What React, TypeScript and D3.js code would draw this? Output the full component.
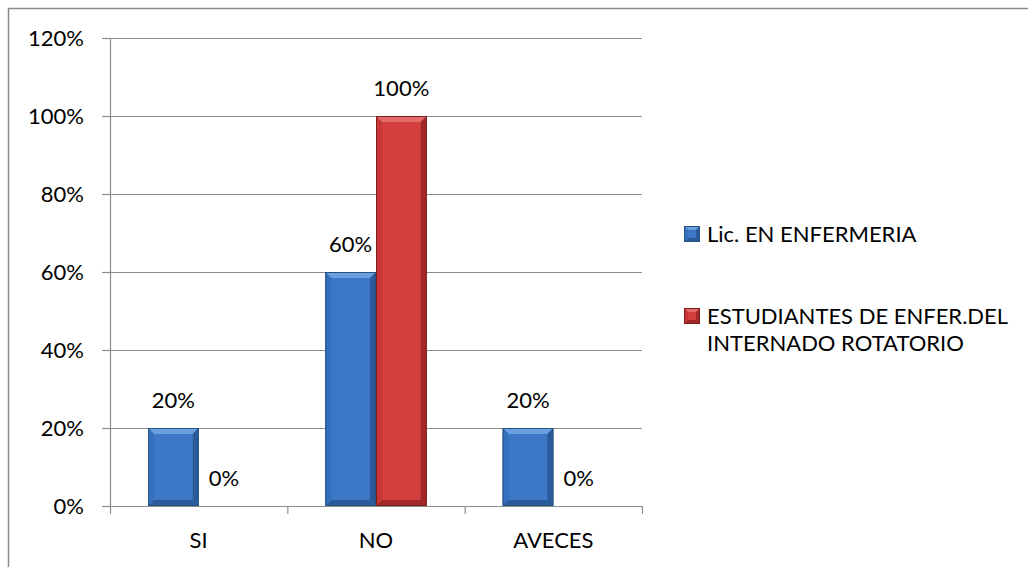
import React from "react";
import * as d3 from "d3";

const categories = ["SI", "NO", "AVECES"];
const seriesNames = ["Lic. EN ENFERMERIA", "ESTUDIANTES DE ENFER.DEL INTERNADO ROTATORIO"];
const licValues = [0.2, 0.6, 0.2];
const estValues = [0, 1.0, 0];
const yTicks = [0, 0.2, 0.4, 0.6, 0.8, 1.0, 1.2];

const W = 1028;
const H = 567;
const FONT = "Lato, 'Open Sans', sans-serif";

const palette = [
  { base: "#3d78c6", light: "#6a9fe0", side: "#3470bd", dark: "#2b5a9a", edge: "#27507f" },
  { base: "#d33f3f", light: "#e56b6b", side: "#c93636", dark: "#a02828", edge: "#7c1d1d" },
];

type Pal = (typeof palette)[number];

// Bar with a flat bevel: light top face, shaded sides and bottom.
function BevelRect({ x, y, w, h, pal, b = 6 }: { x: number; y: number; w: number; h: number; pal: Pal; b?: number }) {
  if (h <= 0 || w <= 0) return null;
  const bb = Math.min(b, h / 2, w / 2);
  const pts = (p: number[][]) => p.map((q) => q.join(",")).join(" ");
  return (
    <g>
      <rect x={x} y={y} width={w} height={h} fill={pal.base} />
      <polygon points={pts([[x, y], [x + w, y], [x + w - bb, y + bb], [x + bb, y + bb]])} fill={pal.light} />
      <polygon points={pts([[x, y], [x + bb, y + bb], [x + bb, y + h - bb], [x, y + h]])} fill={pal.side} />
      <polygon points={pts([[x + w, y], [x + w - bb, y + bb], [x + w - bb, y + h - bb], [x + w, y + h]])} fill={pal.dark} />
      <polygon points={pts([[x, y + h], [x + bb, y + h - bb], [x + w - bb, y + h - bb], [x + w, y + h]])} fill={pal.dark} />
      <rect x={x + 0.5} y={y + 0.5} width={w - 1} height={h - 1} fill="none" stroke={pal.edge} strokeWidth={1} />
    </g>
  );
}

export default function App() {
  const plot = { left: 110, right: 642, top: 38, bottom: 506 };
  const y = d3.scaleLinear().domain([0, 1.2]).range([plot.bottom, plot.top]);
  const x0 = d3.scaleBand<string>().domain(categories).range([plot.left, plot.right]).padding(0);
  const x1 = d3
    .scaleBand<number>()
    .domain([0, 1])
    .range([0, x0.bandwidth()])
    .paddingInner(0)
    .paddingOuter(0.75);
  const series = [licValues, estValues];
  const pct = d3.format(".0%");
  const grid = "#8c8c8c";

  return (
    <svg width={W} height={H} style={{ position: "absolute", left: 0, top: 0, background: "#fff" }} fontFamily={FONT}>
      <rect x={8.5} y={8.5} width={W + 20} height={H + 20} fill="#fff" stroke="#8a8a8a" strokeWidth={1.5} />

      {yTicks.map((t) => (
        <g key={t}>
          {t > 0 && <line x1={plot.left} x2={plot.right} y1={Math.round(y(t)) + 0.5} y2={Math.round(y(t)) + 0.5} stroke={grid} strokeWidth={1.2} />}
          <line x1={plot.left - 8} x2={plot.left} y1={Math.round(y(t)) + 0.5} y2={Math.round(y(t)) + 0.5} stroke={grid} strokeWidth={1.2} />
          <text x={plot.left - 26} y={y(t)} dy="0.35em" textAnchor="end" fontSize={22} fill="#000">
            {pct(t)}
          </text>
        </g>
      ))}

      {series.map((vals, si) =>
        categories.map((c, ci) => {
          const bx = (x0(c) ?? 0) + (x1(si) ?? 0);
          const bw = x1.bandwidth();
          const v = vals[ci];
          return (
            <g key={`${si}-${ci}`}>
              <BevelRect x={bx} y={y(v)} w={bw} h={y(0) - y(v)} pal={palette[si]} />
              <text x={bx + bw / 2} y={y(v) - 28} dy="0.35em" textAnchor="middle" fontSize={22} fill="#000">
                {pct(v)}
              </text>
            </g>
          );
        })
      )}

      <line x1={plot.left + 0.5} x2={plot.left + 0.5} y1={plot.top} y2={plot.bottom} stroke={grid} strokeWidth={1.2} />
      <line x1={plot.left} x2={plot.right} y1={plot.bottom + 0.5} y2={plot.bottom + 0.5} stroke={grid} strokeWidth={1.2} />
      {[...categories.map((c) => x0(c) ?? 0), plot.right].map((tx, i) => (
        <line key={i} x1={tx + 0.5} x2={tx + 0.5} y1={plot.bottom} y2={plot.bottom + 8} stroke={grid} strokeWidth={1.2} />
      ))}
      {categories.map((c) => (
        <text key={c} x={(x0(c) ?? 0) + x0.bandwidth() / 2} y={540} dy="0.35em" textAnchor="middle" fontSize={22} fill="#000">
          {c}
        </text>
      ))}

      <g>
        <BevelRect x={684} y={226} w={16} h={16} pal={palette[0]} b={4} />
        <text x={707} y={234} dy="0.35em" fontSize={22} fill="#000">
          {seriesNames[0]}
        </text>
        <BevelRect x={684} y={308} w={16} h={16} pal={palette[1]} b={4} />
        <text x={707} y={316} dy="0.35em" fontSize={22} fill="#000">
          ESTUDIANTES DE ENFER.DEL
        </text>
        <text x={707} y={343} dy="0.35em" fontSize={22} fill="#000">
          INTERNADO ROTATORIO
        </text>
      </g>
    </svg>
  );
}
